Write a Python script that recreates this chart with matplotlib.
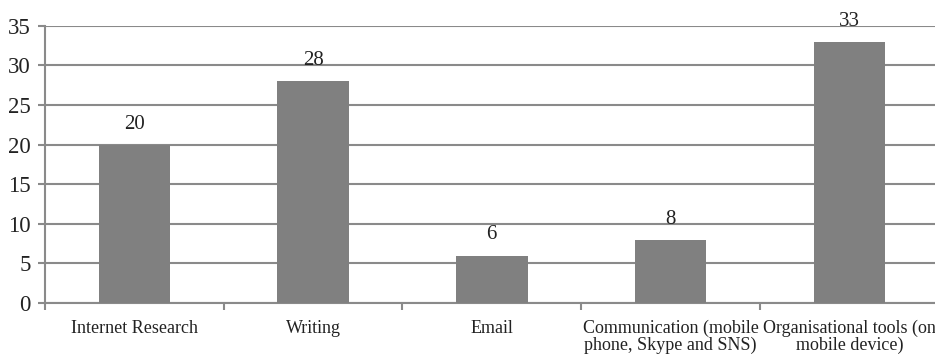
import numpy as np
import matplotlib
matplotlib.use('Agg')
import matplotlib.pyplot as plt

# data
categories = ['Internet Research', 'Writing', 'Email',
              'Communication (mobile\nphone, Skype and SNS)',
              'Organisational tools (on\nmobile device)']
values = [20, 28, 6, 8, 33]

plt.rcParams['font.family'] = ['Liberation Serif', 'DejaVu Serif']

fig = plt.figure(figsize=(9.35, 3.54), dpi=100)
ax = fig.add_axes([0.048, 0.144, 0.956, 0.783])

index = np.arange(len(values))
bars = ax.bar(index, values, 0.4, color='#808080', zorder=3)

ax.set_ylim(0, 35)
ax.set_xlim(-0.5, len(values) - 0.5)
ax.set_yticks(np.arange(0, 36, 5))
ax.yaxis.grid(True, color='#8a8a8a', linewidth=1.5, zorder=0)

# category boundary ticks on x axis
ax.set_xticks(np.arange(-0.5, len(values), 1.0))
ax.set_xticklabels([])
ax.set_xticks(index, minor=True)
ax.set_xticklabels(categories, minor=True, fontsize=13, color='#222222',
                   linespacing=0.95)
ax.tick_params(axis='x', which='minor', length=0, pad=12)
ax.tick_params(axis='x', which='major', length=5, width=1.5, color='#8a8a8a')
ax.tick_params(axis='y', length=5, width=1.5, color='#8a8a8a',
               labelsize=16.5, labelcolor='#222222', pad=5)

for s in ['top', 'right']:
    ax.spines[s].set_visible(False)
for s in ['left', 'bottom']:
    ax.spines[s].set_color('#8a8a8a')
    ax.spines[s].set_linewidth(1.5)

for b, v in zip(bars, values):
    ax.annotate(str(v), (b.get_x() + b.get_width() / 2, v),
                xytext=(0, 8), textcoords='offset points',
                ha='center', va='bottom', fontsize=15, color='#222222')

fig.savefig('out.png', dpi=100)
